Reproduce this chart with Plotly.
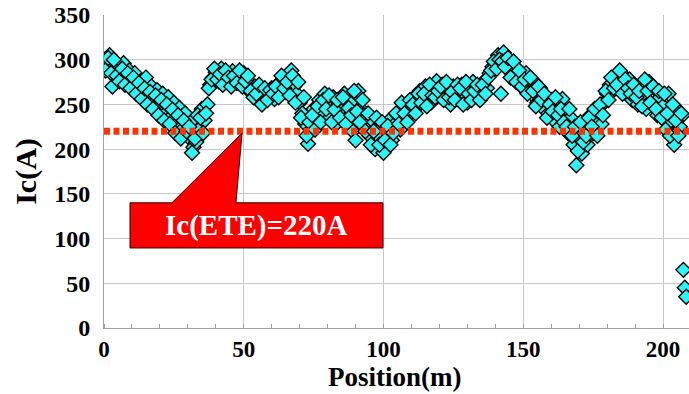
import plotly.graph_objects as go

positions = [
    0, 1, 2, 3, 4, 5, 6, 7, 8, 9,
    10, 11, 12, 13, 14, 15, 16, 17, 18, 19,
    20, 21, 22, 23, 24, 25, 26, 27, 28, 29,
    30, 31, 32, 33, 34, 35, 36, 37, 38, 39,
    40, 41, 42, 43, 44, 45, 46, 47, 48, 49,
    50, 51, 52, 53, 54, 55, 56, 57, 58, 59,
    60, 61, 62, 63, 64, 65, 66, 67, 68, 69,
    70, 71, 72, 73, 74, 75, 76, 77, 78, 79,
    80, 81, 82, 83, 84, 85, 86, 87, 88, 89,
    90, 91, 92, 93, 94, 95, 96, 97, 98, 99,
    100, 101, 102, 103, 104, 105, 106, 107, 108, 109,
    110, 111, 112, 113, 114, 115, 116, 117, 118, 119,
    120, 121, 122, 123, 124, 125, 126, 127, 128, 129,
    130, 131, 132, 133, 134, 135, 136, 137, 138, 139,
    140, 141, 142, 143, 144, 145, 146, 147, 148, 149,
    150, 151, 152, 153, 154, 155, 156, 157, 158, 159,
    160, 161, 162, 163, 164, 165, 166, 167, 168, 169,
    170, 171, 172, 173, 174, 175, 176, 177, 178, 179,
    180, 181, 182, 183, 184, 185, 186, 187, 188, 189,
    190, 191, 192, 193, 194, 195, 196, 197, 198, 199,
    200, 201, 202, 203, 204, 205, 206, 207,
    207.3, 207.8, 208.3,
]

ic_values = [
    300, 293, 305, 270, 297, 290, 284, 296, 278, 288,
    272, 285, 268, 276, 262, 280, 258, 270, 255, 266,
    248, 262, 240, 258, 236, 252, 228, 246, 222, 240,
    214, 230, 202, 208, 222, 245, 232, 250, 272, 280,
    286, 276, 290, 280, 284, 274, 287, 278, 282, 276,
    285, 270, 275, 262, 270, 255, 266, 252, 262, 258,
    268, 256, 272, 262, 276, 264, 280, 288, 270, 262,
    252, 240, 228, 206, 222, 245, 232, 255, 240, 262,
    248, 236, 258, 228, 250, 242, 262, 235, 252, 220,
    210, 265, 245, 238, 226, 215, 232, 200, 225, 212,
    196, 220, 232, 210, 228, 238, 222, 245, 235, 250,
    242, 258, 248, 265, 255, 270, 260, 252, 268, 276,
    262, 272, 258, 266, 250, 270, 262, 256, 272, 262,
    252, 268, 275, 260, 270, 258, 276, 268, 285, 292,
    298, 305, 262, 308, 300, 295, 285, 292, 278, 282,
    268, 285, 272, 262, 275, 252, 268, 246, 258, 240,
    255, 232, 250, 225, 256, 242, 218, 235, 205, 182,
    212, 195, 225, 205, 238, 218, 232, 242, 228, 252,
    262, 272, 265, 280, 275, 285, 270, 262, 278, 255,
    268, 250, 272, 262, 245, 275, 255, 268, 238, 258,
    248, 222, 262, 232, 205, 245, 225, 238,
    65, 45, 35,
]

half_positions = [
    0.5, 1.5, 2.5, 3.5, 4.5, 5.5, 6.5, 7.5, 8.5, 9.5,
    10.5, 11.5, 12.5, 13.5, 14.5, 15.5, 16.5, 17.5, 18.5, 19.5,
    20.5, 21.5, 22.5, 23.5, 24.5, 25.5, 26.5, 27.5, 28.5, 29.5,
    30.5, 31.5, 32.5, 33.5, 34.5, 35.5, 36.5, 37.5, 38.5, 39.5,
    40.5, 41.5, 42.5, 43.5, 44.5, 45.5, 46.5, 47.5, 48.5, 49.5,
    50.5, 51.5, 52.5, 53.5, 54.5, 55.5, 56.5, 57.5, 58.5, 59.5,
    60.5, 61.5, 62.5, 63.5, 64.5, 65.5, 66.5, 67.5, 68.5, 69.5,
    70.5, 71.5, 72.5, 73.5, 74.5, 75.5, 76.5, 77.5, 78.5, 79.5,
    80.5, 81.5, 82.5, 83.5, 84.5, 85.5, 86.5, 87.5, 88.5, 89.5,
    90.5, 91.5, 92.5, 93.5, 94.5, 95.5, 96.5, 97.5, 98.5, 99.5,
    100.5, 101.5, 102.5, 103.5, 104.5, 105.5, 106.5, 107.5, 108.5, 109.5,
    110.5, 111.5, 112.5, 113.5, 114.5, 115.5, 116.5, 117.5, 118.5, 119.5,
    120.5, 121.5, 122.5, 123.5, 124.5, 125.5, 126.5, 127.5, 128.5, 129.5,
    130.5, 131.5, 132.5, 133.5, 134.5, 135.5, 136.5, 137.5, 138.5, 139.5,
    140.5, 141.5, 142.5, 143.5, 144.5, 145.5, 146.5, 147.5, 148.5, 149.5,
    150.5, 151.5, 152.5, 153.5, 154.5, 155.5, 156.5, 157.5, 158.5, 159.5,
    160.5, 161.5, 162.5, 163.5, 164.5, 165.5, 166.5, 167.5, 168.5, 169.5,
    170.5, 171.5, 172.5, 173.5, 174.5, 175.5, 176.5, 177.5, 178.5, 179.5,
    180.5, 181.5, 182.5, 183.5, 184.5, 185.5, 186.5, 187.5, 188.5, 189.5,
    190.5, 191.5, 192.5, 193.5, 194.5, 195.5, 196.5, 197.5, 198.5, 199.5,
    200.5, 201.5, 202.5, 203.5, 204.5, 205.5, 206.5,
]

half_ic_values = [
    288, 302, 285, 300, 282, 276, 290, 272, 285, 268,
    280, 262, 274, 256, 268, 250, 264, 245, 260, 238,
    255, 232, 250, 228, 244, 218, 238, 212, 232, 220,
    225, 196, 212, 238, 235, 218, 240, 268, 278, 290,
    278, 284, 272, 288, 280, 270, 282, 274, 288, 270,
    276, 282, 265, 258, 262, 272, 250, 268, 255, 266,
    262, 270, 258, 282, 268, 275, 260, 282, 252, 275,
    235, 258, 215, 230, 238, 222, 248, 230, 255, 245,
    260, 230, 244, 255, 235, 258, 228, 246, 238, 265,
    242, 230, 255, 220, 240, 205, 220, 235, 205, 230,
    210, 226, 205, 218, 240, 228, 252, 240, 230, 255,
    250, 240, 262, 252, 262, 248, 272, 260, 258, 265,
    270, 255, 275, 258, 264, 255, 272, 268, 250, 275,
    262, 255, 265, 272, 255, 272, 262, 280, 288, 298,
    290, 300, 298, 292, 302, 280, 298, 275, 288, 270,
    278, 262, 280, 265, 248, 270, 255, 262, 235, 250,
    242, 258, 238, 245, 230, 225, 245, 215, 225, 198,
    230, 208, 215, 235, 225, 245, 215, 250, 238, 265,
    255, 280, 268, 272, 288, 262, 278, 268, 262, 272,
    258, 265, 248, 278, 265, 252, 270, 245, 265, 235,
    262, 240, 215, 250, 232, 215, 240,
]

ete_level = 220
callout_text = "Ic(ETE)=220A"
x_title = "Position(m)"
y_title = "Ic(A)"
x_ticks = [0, 50, 100, 150, 200]
y_ticks = [0, 50, 100, 150, 200, 250, 300, 350]

serif = "Liberation Serif, Times New Roman, serif"

all_x = positions + half_positions
all_y = ic_values + half_ic_values

fig = go.Figure()
fig.add_trace(go.Scatter(
    x=all_x, y=all_y, mode="markers",
    marker=dict(symbol="diamond", size=11.5, color="#2EF5F5",
                line=dict(color="#000000", width=1.4)),
    showlegend=False,
))

# ETE dotted level line
fig.add_shape(type="line", xref="x", yref="y", x0=0, x1=210,
              y0=ete_level, y1=ete_level, layer="above",
              line=dict(color="#FF3300", width=7, dash="6px,3.5px"))

# callout box with pointer
fig.add_shape(type="path", xref="x", yref="y", layer="above",
              path="M 9.3 140 L 24.3 140 L 49.4 218 L 47.2 140 L 99.8 140 "
                   "L 99.8 89.5 L 9.3 89.5 Z",
              fillcolor="#FF0000", line=dict(color="#300000", width=1))
fig.add_annotation(x=54.5, y=114.5, xref="x", yref="y",
                   text="<b>" + callout_text + "</b>",
                   showarrow=False,
                   font=dict(family=serif, size=29, color="white"))

# x axis title
fig.add_annotation(x=0.497, y=-0.209, xref="paper", yref="paper",
                   xanchor="center", yanchor="bottom", borderpad=0,
                   text="<b>" + x_title + "</b>", showarrow=False,
                   font=dict(family=serif, size=27, color="black"))

fig.update_layout(
    width=689, height=394,
    margin=dict(l=104, r=0, t=15, b=66),
    paper_bgcolor="white", plot_bgcolor="white",
    font=dict(family=serif, color="black"),
    xaxis=dict(range=[0, 209.3], tickvals=x_ticks,
               ticktext=["<b>%d</b>" % v for v in x_ticks],
               showgrid=True, gridcolor="#c8c8c8", gridwidth=1, zeroline=False,
               showline=True, linecolor="#a0a0a0", linewidth=1,
               ticks="", ticklabelstandoff=0,
               minor=dict(dtick=10, ticks="inside", ticklen=4,
                          tickcolor="#a0a0a0", showgrid=False),
               tickfont=dict(family=serif, size=23, color="black", weight=700)),
    yaxis=dict(range=[0, 350], tickvals=y_ticks,
               ticktext=["<b>%d</b>" % v for v in y_ticks],
               showgrid=True, gridcolor="#c8c8c8", gridwidth=1, zeroline=False,
               showline=True, linecolor="#a0a0a0", linewidth=1,
               ticks="", ticklabelstandoff=8,
               tickfont=dict(family=serif, size=24, color="black", weight=700),
               title=dict(text="<b>" + y_title + "</b>", standoff=8,
                          font=dict(family=serif, size=30, color="black"))),
)

fig.write_html("out.html")
